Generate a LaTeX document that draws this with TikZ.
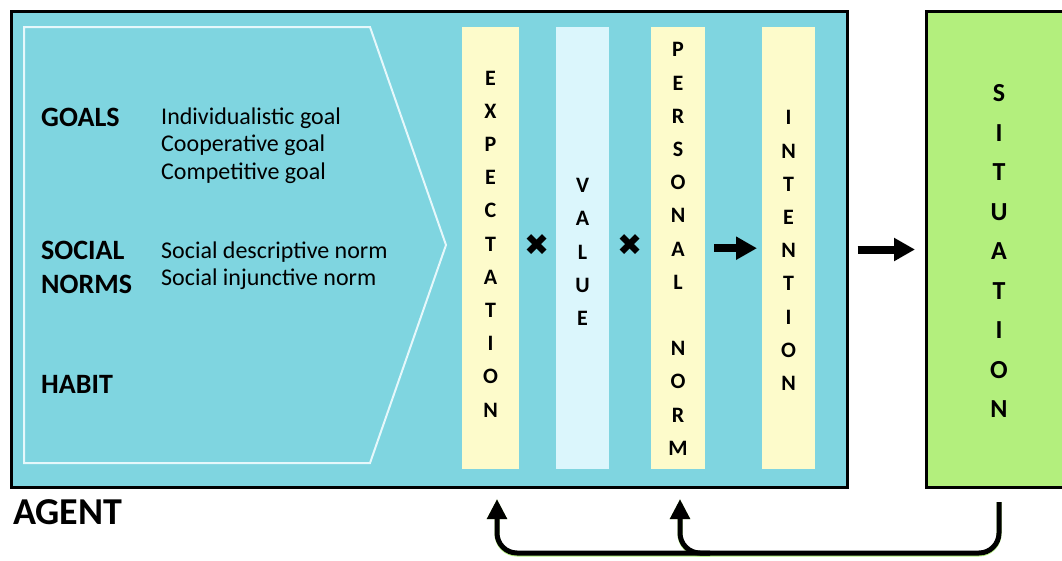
\documentclass[tikz,border=0pt]{standalone}
\usepackage{fontspec}
\setmainfont{Carlito}
\newfontfamily\symfont{DejaVu Sans}
\usetikzlibrary{arrows.meta}
\definecolor{agentfill}{RGB}{127,213,224}
\definecolor{yelfill}{RGB}{253,251,203}
\definecolor{cyanfill}{RGB}{219,246,252}
\definecolor{sitfill}{RGB}{179,239,125}
\definecolor{chevline}{RGB}{230,248,251}
\begin{document}
\begin{tikzpicture}[x=1pt,y=-1pt,
  bigbox/.style={draw=black,line width=3pt,anchor=north west,inner sep=0pt},
  shadowbox/.style={fill=black!60,opacity=0.6,anchor=north west,inner sep=0pt},
  colbox/.style={anchor=north west,inner sep=0pt,minimum width=#1,minimum height=442pt},
  stack/.style={align=center,inner sep=0pt,font=\bfseries\fontsize{22}{33.2}\selectfont},
  cat/.style={anchor=base west,inner sep=0pt,font=\bfseries\fontsize{28}{30}\selectfont},
  item/.style={anchor=base west,inner sep=0pt,font=\fontsize{24}{27.5}\selectfont},
  times/.style={inner sep=0pt,font=\symfont\fontsize{30}{32}\selectfont},
  fatarrow/.style={line width=8pt,-{Triangle[length=21pt,width=22pt]}},
  backarrow/.style={line width=5pt,rounded corners=20pt,-{Triangle[length=20pt,width=19pt]}},
  glow/.style={line width=5pt,rounded corners=20pt,draw=sitfill,-{Triangle[length=20pt,width=19pt]}}
]
\useasboundingbox (0,0) rectangle (1062,560);
\clip (0,0) rectangle (1062,560);
% shadows
\node[shadowbox,minimum width=837pt,minimum height=477pt] (agentshadow) at (12,12) {};
\node[shadowbox,minimum width=150pt,minimum height=477pt] (sitshadow) at (927,12) {};
% agent box
\node[bigbox,fill=agentfill,minimum width=836pt,minimum height=476pt] (agent) at (10,10) {};
% chevron
\draw[chevline,line width=2pt] (24,27) -- (370,27) -- (446,245) -- (370,463) -- (24,463) -- cycle;
% left texts
\node[cat] (goals) at (41,126) {GOALS};
\node[item] (g1) at (161,124) {Individualistic goal};
\node[item] (g2) at (161,151.5) {Cooperative goal};
\node[item] (g3) at (161,179) {Competitive goal};
\node[cat] (social) at (41,259) {SOCIAL};
\node[cat] (norms) at (41,293) {NORMS};
\node[item] (n1) at (161,258) {Social descriptive norm};
\node[item] (n2) at (161,285.5) {Social injunctive norm};
\node[cat] (habit) at (41,393) {HABIT};
\node[anchor=base west,inner sep=0pt,font=\bfseries\fontsize{38}{40}\selectfont] (agentlabel) at (13,524) {AGENT};
% columns
\node[colbox=57pt,fill=yelfill] (expect) at (462,27) {};
\node[colbox=53pt,fill=cyanfill] (value) at (556,27) {};
\node[colbox=54pt,fill=yelfill] (personal) at (651,27) {};
\node[colbox=53pt,fill=yelfill] (intent) at (762,27) {};
\node[stack] (expecttxt) at (490.5,244) {E\\X\\P\\E\\C\\T\\A\\T\\I\\O\\N};
\node[stack] (valuetxt) at (582.5,252) {V\\A\\L\\U\\E};
\node[stack] (personaltxt) at (678,249) {P\\E\\R\\S\\O\\N\\A\\L\\\mbox{}\\N\\O\\R\\M};
\node[stack] (intenttxt) at (788.5,250.5) {I\\N\\T\\E\\N\\T\\I\\O\\N};
\node[times] (x1) at (537,245) {✖};
\node[times] (x2) at (630,245) {✖};
% situation
\node[bigbox,fill=sitfill,minimum width=148pt,minimum height=476pt] (situation) at (925,10) {};
\node[align=center,inner sep=0pt,font=\bfseries\fontsize{26}{39.5}\selectfont] (sittxt) at (999,251) {S\\I\\T\\U\\A\\T\\I\\O\\N};
% arrows
\draw[fatarrow,shorten <=9pt,shorten >=5pt] (personal.east) -- (intent.west);
\draw[fatarrow,shorten <=8.5pt,shorten >=10pt] (agent.east) -- (situation.west);
% return arrows
\coordinate (s0) at (999,502);
\coordinate (t1) at (680,499);
\coordinate (t2) at (497,499);
\begin{scope}[xshift=2pt,yshift=-1pt]
\draw[glow] (s0) |- (t1 |- 0,553) -- (t1);
\draw[glow] ([xshift=30pt]t1 |- 0,553) -- (t2 |- 0,553) -- (t2);
\end{scope}
\draw[backarrow] (s0) |- (t1 |- 0,553) -- (t1);
\draw[backarrow] ([xshift=30pt]t1 |- 0,553) -- (t2 |- 0,553) -- (t2);
\end{tikzpicture}
\end{document}
